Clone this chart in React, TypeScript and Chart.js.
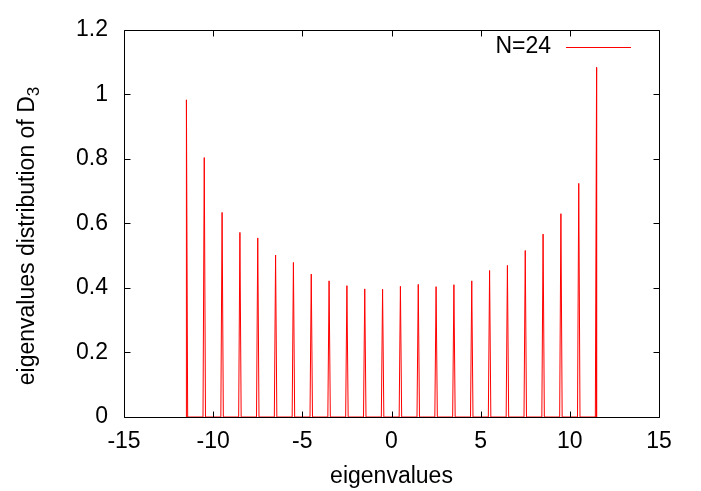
import React, { useEffect, useRef } from "react";
import { Chart, registerables } from "chart.js";

Chart.register(...registerables);

// ---- data ----
const eigenvalues = [
  -11.5, -10.5, -9.5, -8.5, -7.5, -6.5, -5.5, -4.5, -3.5, -2.5, -1.5, -0.5,
  0.5, 1.5, 2.5, 3.5, 4.5, 5.5, 6.5, 7.5, 8.5, 9.5, 10.5, 11.5,
];
const peakHeights = [
  0.983, 0.804, 0.634, 0.572, 0.555, 0.502, 0.479, 0.443, 0.422, 0.407, 0.397, 0.396,
  0.405, 0.411, 0.404, 0.41, 0.422, 0.454, 0.47, 0.516, 0.567, 0.63, 0.724, 1.083,
];
const spikeHalfWidth = 0.07;
const xTicks = [-15, -10, -5, 0, 5, 10, 15];
const yTicks = [0, 0.2, 0.4, 0.6, 0.8, 1, 1.2];
const seriesLabel = "N=24";
const xTitle = "eigenvalues";
const yTitleMain = "eigenvalues distribution of D";
const yTitleSub = "3";

const LINE_COLOR = "#ff0000";
const FONT = "'Liberation Sans', Arial, Helvetica, sans-serif";
const FS = 23;
const SUB_FS = 17;

function buildPoints() {
  const pts: { x: number; y: number }[] = [];
  const n = eigenvalues.length;
  eigenvalues.forEach((x, i) => {
    const h = peakHeights[i];
    const lw = i === 0 ? 0 : spikeHalfWidth;
    const rw = i === n - 1 ? 0 : spikeHalfWidth;
    pts.push({ x: x - lw, y: 0 });
    pts.push({ x: x, y: h });
    pts.push({ x: x + rw, y: 0 });
  });
  return pts;
}

const framePlugin = {
  id: "gnuplotFrame",
  afterDraw(chart: any) {
    const ctx = chart.ctx as CanvasRenderingContext2D;
    const { left, right, top, bottom } = chart.chartArea;
    const xs = chart.scales.x;
    const ys = chart.scales.y;
    const L = Math.round(left) + 0.5;
    const R = Math.round(right) + 0.5;
    const T = Math.round(top) + 0.5;
    const B = Math.round(bottom) + 0.5;
    ctx.save();
    ctx.strokeStyle = "#000";
    ctx.lineWidth = 1;
    ctx.beginPath();
    ctx.rect(L, T, R - L, B - T);
    const tl = 6;
    xTicks.forEach((v) => {
      const px = Math.round(xs.getPixelForValue(v)) + 0.5;
      ctx.moveTo(px, B);
      ctx.lineTo(px, B - tl);
      ctx.moveTo(px, T);
      ctx.lineTo(px, T + tl);
    });
    yTicks.forEach((v) => {
      const py = Math.round(ys.getPixelForValue(v)) + 0.5;
      ctx.moveTo(L, py);
      ctx.lineTo(L + tl, py);
      ctx.moveTo(R, py);
      ctx.lineTo(R - tl, py);
    });
    ctx.stroke();

    // x title
    ctx.fillStyle = "#000";
    ctx.font = `${FS}px ${FONT}`;
    ctx.textAlign = "center";
    ctx.textBaseline = "alphabetic";
    ctx.fillText(xTitle, (left + right) / 2, 483);

    // y title with subscript
    ctx.save();
    ctx.font = `${FS}px ${FONT}`;
    const mainW = ctx.measureText(yTitleMain).width;
    ctx.font = `${SUB_FS}px ${FONT}`;
    const subW = ctx.measureText(yTitleSub).width;
    const total = mainW + subW;
    ctx.translate(34, 236);
    ctx.rotate(-Math.PI / 2);
    ctx.textAlign = "left";
    ctx.font = `${FS}px ${FONT}`;
    ctx.fillText(yTitleMain, -total / 2, 0);
    ctx.font = `${SUB_FS}px ${FONT}`;
    ctx.fillText(yTitleSub, -total / 2 + mainW, 5);
    ctx.restore();

    // legend (gnuplot style key)
    ctx.font = `${FS}px ${FONT}`;
    ctx.textAlign = "right";
    ctx.textBaseline = "middle";
    ctx.fillStyle = "#000";
    ctx.fillText(seriesLabel, 551, 47);
    ctx.strokeStyle = LINE_COLOR;
    ctx.lineWidth = 1;
    ctx.beginPath();
    ctx.moveTo(566, 47.5);
    ctx.lineTo(631, 47.5);
    ctx.stroke();
    ctx.restore();
  },
};

export default function App() {
  const ref = useRef<HTMLCanvasElement>(null);
  useEffect(() => {
    if (!ref.current) return;
    const chart = new Chart(ref.current, {
      type: "scatter",
      data: {
        datasets: [
          {
            label: seriesLabel,
            data: buildPoints(),
            showLine: true,
            borderColor: LINE_COLOR,
            borderWidth: 1,
            pointRadius: 0,
            tension: 0,
          },
        ],
      },
      options: {
        responsive: false,
        animation: false,
        devicePixelRatio: 1,
        layout: { padding: { left: 0, right: 42, top: 29, bottom: 0 } },
        plugins: {
          legend: { display: false },
          tooltip: { enabled: false },
          title: { display: false },
        },
        scales: {
          x: {
            type: "linear",
            min: -15,
            max: 15,
            grid: { display: false, drawTicks: false },
            border: { display: false },
            afterFit: (s: any) => {
              s.height = 74;
            },
            afterBuildTicks: (s: any) => {
              s.ticks = xTicks.map((v) => ({ value: v }));
            },
            ticks: {
              color: "#000",
              padding: 11,
              maxRotation: 0,
              autoSkip: false,
              font: { family: FONT, size: FS },
              callback: (v: any) => String(v),
            },
          },
          y: {
            type: "linear",
            min: 0,
            max: 1.2,
            grid: { display: false, drawTicks: false },
            border: { display: false },
            afterFit: (s: any) => {
              s.width = 124;
            },
            afterBuildTicks: (s: any) => {
              s.ticks = yTicks.map((v) => ({ value: v }));
            },
            ticks: {
              color: "#000",
              padding: 16,
              autoSkip: false,
              font: { family: FONT, size: FS },
              callback: (v: any) => String(Math.round(Number(v) * 10) / 10),
            },
          },
        },
      },
      plugins: [framePlugin],
    });
    return () => chart.destroy();
  }, []);
  return (
    <div style={{ position: "absolute", left: 0, top: 0, width: 701, height: 491, background: "#fff" }}>
      <canvas ref={ref} width={701} height={491} style={{ display: "block" }} />
    </div>
  );
}
